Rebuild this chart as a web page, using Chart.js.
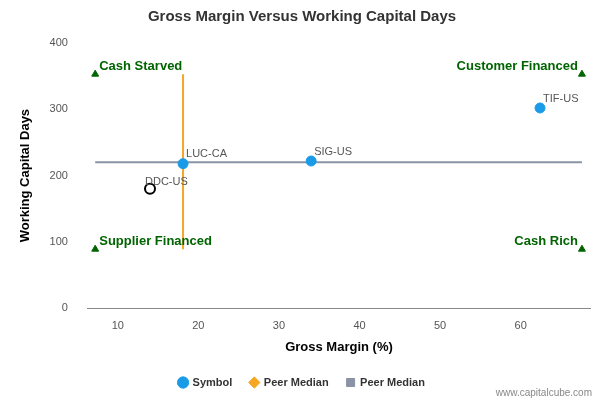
<!DOCTYPE html><html><head><style>body{margin:0;background:#fff}#w{width:600px;height:400px}</style>
<script src="https://cdn.jsdelivr.net/npm/chart.js@4"></script></head><body><div id="w"><canvas id="c"></canvas></div><script>
const symbols=['TIF-US','SIG-US','LUC-CA','DDC-US'];
const margins=[62.4,34.0,18.1,14.0];
const wcDays=[302,222,218,180];
const medianX=18.1, medianY=220;
const xMin=6.3,xMax=68.6,cornerLo=7.2,cornerHi=67.6,yLo=89,yHi=353;
const quadrants=[['Cash Starved',cornerLo,yHi,'left'],['Customer Financed',cornerHi,yHi,'right'],['Supplier Financed',cornerLo,yLo,'left'],['Cash Rich',cornerHi,yLo,'right']];
const pts=symbols.map((s,i)=>({x:margins[i],y:wcDays[i]}));
const labelPlugin={id:'lbl',afterDatasetsDraw(ch){const c=ch.ctx,x=ch.scales.x,y=ch.scales.y;c.save();
c.font='11px Arial';c.fillStyle='#555';c.textAlign='left';c.textBaseline='bottom';
pts.forEach((p,i)=>{const dx=i==3?-5:3;c.fillText(symbols[i],x.getPixelForValue(p.x)+dx,y.getPixelForValue(p.y)-(i==3?1:4));});
c.font='bold 13px Arial';c.fillStyle='#006400';
quadrants.forEach(q=>{c.textAlign=q[3];c.fillText(q[0],x.getPixelForValue(q[1])+(q[3]=='left'?4:-4),y.getPixelForValue(q[2])-1);});
c.font='10px Arial';c.fillStyle='#888';c.textAlign='right';c.textBaseline='alphabetic';c.fillText('www.capitalcube.com',592,396);c.restore();}};
new Chart(document.getElementById('c'),{type:'scatter',data:{datasets:[
{label:'Symbol',data:pts,backgroundColor:['#1a9be8','#1a9be8','#1a9be8','#fff'],borderColor:['#1a9be8','#1a9be8','#1a9be8','#000'],borderWidth:[1,1,1,2],pointRadius:5,order:0},
{label:'Peer Median',type:'line',data:[{x:medianX,y:yLo},{x:medianX,y:yHi}],borderColor:'#f5a623',backgroundColor:'#f5a623',borderWidth:2,pointRadius:0,pointStyle:'rectRot',order:2},
{label:'Peer Median',type:'line',data:[{x:cornerLo,y:medianY},{x:cornerHi,y:medianY}],borderColor:'#8a93a6',backgroundColor:'#8a93a6',borderWidth:2,pointRadius:0,pointStyle:'rect',order:3},
{label:'q',data:quadrants.map(q=>({x:q[1],y:q[2]})),pointStyle:'triangle',pointRadius:4,backgroundColor:'#006400',borderColor:'#006400',order:1}
]},plugins:[labelPlugin],options:{responsive:true,maintainAspectRatio:false,animation:false,layout:{padding:{left:14,right:10,top:0,bottom:2}},
plugins:{title:{display:true,text:'Gross Margin Versus Working Capital Days',font:{size:15,weight:'bold',family:'Arial'},color:'#333',padding:{top:8,bottom:17}},
tooltip:{enabled:false},legend:{position:'bottom',labels:{usePointStyle:true,boxWidth:8,boxHeight:8,font:{size:11,weight:'bold',family:'Arial'},color:'#333',padding:18,
generateLabels(ch){return [{text:'Symbol',pointStyle:'circle',fillStyle:'#1a9be8',strokeStyle:'#1a9be8',lineWidth:1,fontColor:'#333',datasetIndex:0},{text:'Peer Median',pointStyle:'rectRot',fillStyle:'#f5a623',strokeStyle:'#f5a623',lineWidth:1,fontColor:'#333',datasetIndex:1},{text:'Peer Median',pointStyle:'rect',fillStyle:'#8a93a6',strokeStyle:'#8a93a6',lineWidth:1,fontColor:'#333',datasetIndex:2}];}}}},
scales:{x:{min:xMin,max:xMax,ticks:{stepSize:10,callback:v=>v%10===0?v:'',color:'#555',font:{size:11}},grid:{display:false},border:{color:'#888'},title:{display:true,text:'Gross Margin (%)',font:{size:13,weight:'bold',family:'Arial'},color:'#000'}},
y:{min:0,max:400,ticks:{stepSize:100,color:'#555',font:{size:11},padding:12},grid:{display:false},border:{display:false},title:{display:true,text:'Working Capital Days',font:{size:13,weight:'bold',family:'Arial'},color:'#000'}}}}});
</script></body></html>
